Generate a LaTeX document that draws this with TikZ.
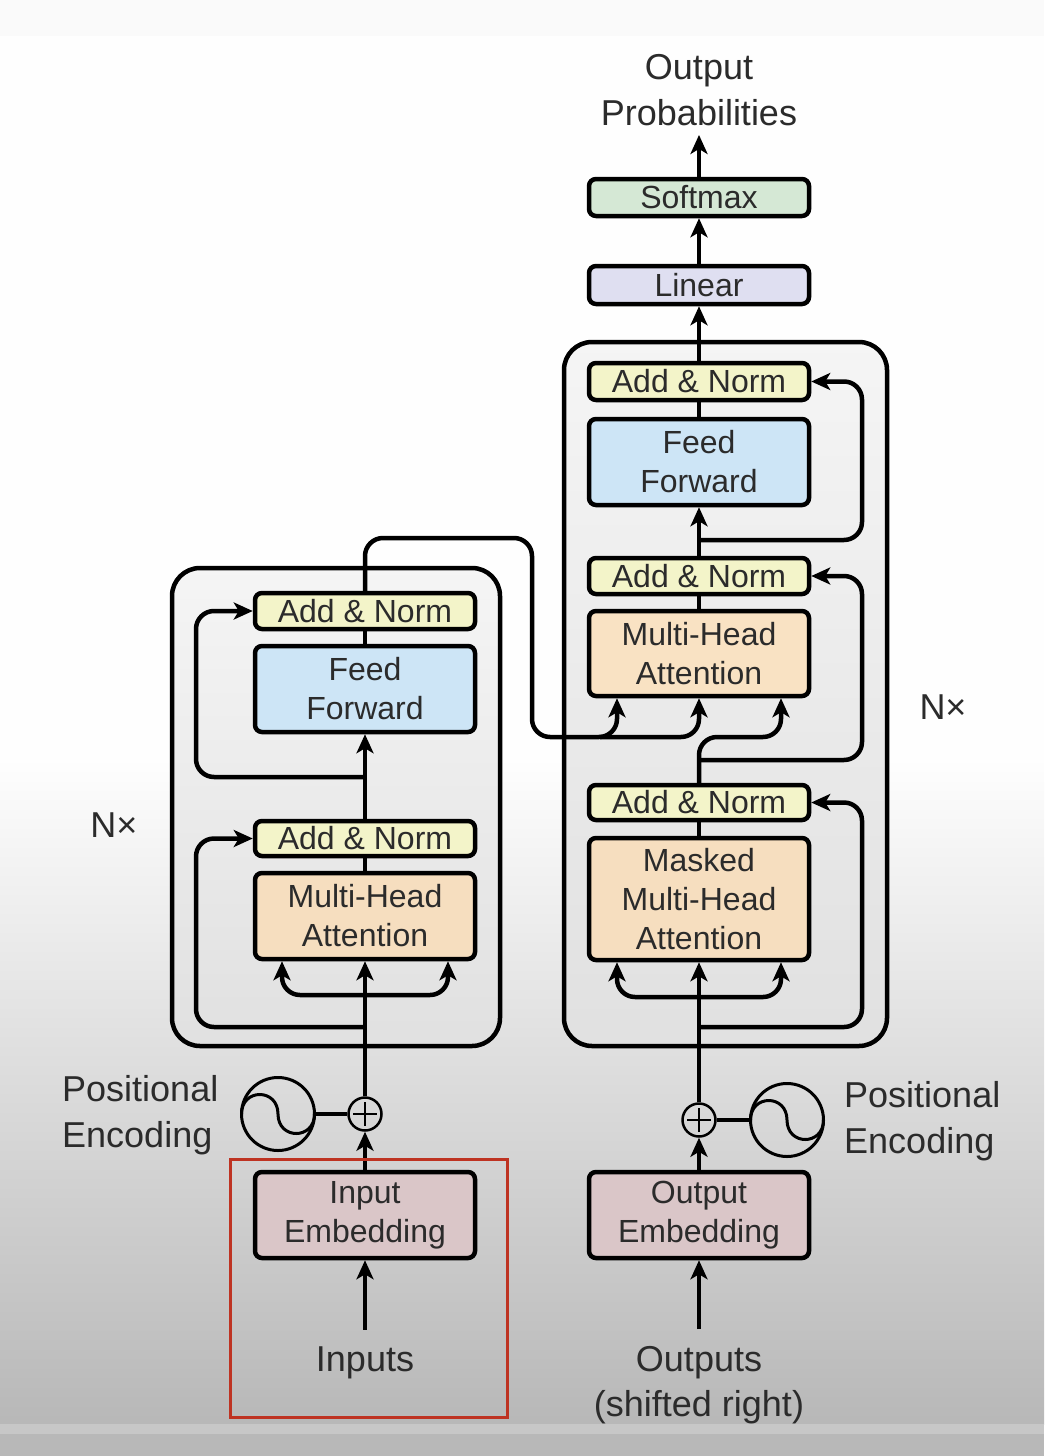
\documentclass[tikz,border=0pt]{standalone}
\usepackage{fontspec}
\setmainfont{Liberation Sans}
\usetikzlibrary{arrows.meta,calc}
\definecolor{txt}{HTML}{2B2B2B}
\definecolor{anC}{HTML}{F3F4C9}
\definecolor{ffC}{HTML}{CDE5F6}
\definecolor{mhC}{HTML}{F9E2C3}
\definecolor{mhCb}{HTML}{F6DEBF}
\definecolor{smC}{HTML}{D5E8D5}
\definecolor{linC}{HTML}{DFDFF1}
\definecolor{embC}{HTML}{DAC6C8}
\definecolor{redC}{HTML}{BE3322}
\begin{document}
\begin{tikzpicture}[x=1pt,y=-1pt,
  every node/.style={text=txt},
  blk/.style={draw=black, line width=4.5pt, rounded corners=7pt, minimum width=220pt, inner sep=0pt, align=center, font=\fontsize{32}{39}\selectfont},
  big/.style={draw=black, line width=4.5pt, rounded corners=28pt, inner sep=0pt},
  lbl/.style={font=\fontsize{36}{46}\selectfont, inner sep=0pt},
  ln/.style={line width=4.5pt},
  arr/.style={line width=4.5pt, -{Stealth[length=19pt,width=17pt,inset=5pt]}},
  res/.style={arr, rounded corners=18pt},
  pluscirc/.style={circle, draw=black, line width=2.5pt, minimum size=33pt, inner sep=0pt},
  sincirc/.style={circle, draw=black, line width=3pt, minimum size=73pt, inner sep=0pt},
  thin/.style={line width=2.5pt},
]
\useasboundingbox (0,0) rectangle (1044,1456);
% background
\fill[black!2] (0,0) rectangle (1044,36);
\fill[black!0.5] (0,36) rectangle (1044,761);
\shade[top color=black!0.5, bottom color=black!28] (0,760) rectangle (1044,1424);
\fill[black!22] (0,1424) rectangle (1044,1434);
\fill[black!28] (0,1434) rectangle (1044,1456);

% big boxes
\node[big, minimum width=328pt, minimum height=478pt, top color=black!4, middle color=black!5, bottom color=black!12] (encbox) at (336,807) {};
\node[big, minimum width=323pt, minimum height=704pt, top color=black!4, middle color=black!5, bottom color=black!12] (decbox) at (725.5,694) {};

% decoder blocks
\node[blk, fill=smC, minimum height=37pt] (softmax) at (699,197.5) {Softmax};
\node[blk, fill=linC, minimum height=38pt] (linear) at (699,285) {Linear};
\node[blk, fill=anC, minimum height=37pt] (an1) at (699,381.5) {Add \& Norm};
\node[blk, fill=ffC, minimum height=86pt] (ff) at (699,462) {Feed\\Forward};
\node[blk, fill=anC, minimum height=36pt] (an2) at (699,576) {Add \& Norm};
\node[blk, fill=mhC, minimum height=85pt] (mha) at (699,653.5) {Multi-Head\\Attention};
\node[blk, fill=anC, minimum height=35pt] (an3) at (699,802.5) {Add \& Norm};
\node[blk, fill=mhCb, minimum height=122pt] (mmha) at (699,899) {Masked\\Multi-Head\\Attention};
\node[blk, fill=embC, minimum height=86pt] (outemb) at (699,1215) {Output\\Embedding};

% encoder blocks
\node[blk, fill=anC, minimum height=36pt] (ane2) at (365,611) {Add \& Norm};
\node[blk, fill=ffC, minimum height=86pt] (ffe) at (365,689) {Feed\\Forward};
\node[blk, fill=anC, minimum height=35pt] (ane1) at (365,838.5) {Add \& Norm};
\node[blk, fill=mhCb, minimum height=86pt] (mhae) at (365,916) {Multi-Head\\Attention};
\node[blk, fill=embC, minimum height=86pt] (inemb) at (365,1215) {Input\\Embedding};

% labels
\node[lbl, align=center] (oprob) at (699,90) {Output\\Probabilities};
\node[lbl, align=left, anchor=west] (peL) at (62,1115) {Positional\\Encoding};
\node[lbl, align=left, anchor=west] (peR) at (844,1121) {Positional\\Encoding};
\node[lbl] (nxL) at (114,825) {N×};
\node[lbl] (nxR) at (943,707) {N×};
\node[lbl] (inputs) at (365,1363) {Inputs};
\node[lbl, align=center, font=\fontsize{36}{45}\selectfont] (outputs) at (699,1385) {Outputs\\(shifted right)};

% positional encoding
\node[pluscirc] (plusL) at (365,1114) {};
\node[sincirc] (sinL) at (278,1114) {};
\node[pluscirc] (plusR) at (699,1120) {};
\node[sincirc] (sinR) at (787,1120) {};
\foreach \p in {plusL,plusR}{
  \draw[thin] ($(\p.center)+(-12,0)$) -- ($(\p.center)+(12,0)$)
              ($(\p.center)+(0,-12)$) -- ($(\p.center)+(0,12)$);
}
\foreach \s in {sinL,sinR}{
  \draw[line width=3pt] ([xshift=-36.5pt]\s.center) .. controls +(0,-26) and +(0,-26) .. (\s.center)
        .. controls +(0,26) and +(0,26) .. ([xshift=36.5pt]\s.center);
}
\draw[ln] (sinL.east) -- (plusL.west);
\draw[ln] (plusR.east) -- (sinR.west);

% encoder connectors
\draw[arr, shorten <=17pt] (inputs.north) -- (inemb.south);
\draw[arr] (inemb.north) -- (plusL.south);
\draw[arr] (plusL.north) -- (mhae.south);
\coordinate (eSplit) at (365,995);
\draw[res] (eSplit) -| ([xshift=-83pt]mhae.south);
\draw[res] (eSplit) -| ([xshift=83pt]mhae.south);
\coordinate (eRes1) at (365,1027);
\draw[res] (eRes1) -| (196,838.5) -- (ane1.west);
\draw[ln] (mhae.north) -- (ane1.south);
\draw[arr] (ane1.north) -- (ffe.south);
\coordinate (eRes2) at (365,777);
\draw[res] (eRes2) -| (196,611) -- (ane2.west);
\draw[ln] (ffe.north) -- (ane2.south);
\draw[res] (ane2.north) |- (532,538) |- (617,737) -- ([xshift=-82pt]mha.south);
\coordinate (eOut) at (600,737);
\draw[res] (eOut) -| (mha.south);

% decoder connectors
\draw[arr, shorten <=17pt] (outputs.north) -- (outemb.south);
\draw[arr] (outemb.north) -- (plusR.south);
\draw[arr] (plusR.north) -- (mmha.south);
\coordinate (dSplit) at (699,997);
\draw[res] (dSplit) -| ([xshift=-82pt]mmha.south);
\draw[res] (dSplit) -| ([xshift=82pt]mmha.south);
\coordinate (dRes1) at (699,1027);
\draw[res] (dRes1) -| (862,802.5) -- (an3.east);
\draw[ln] (mmha.north) -- (an3.south);
\draw[res] (an3.north) |- (781,737) -- ([xshift=82pt]mha.south);
\coordinate (dRes2) at (699,760);
\draw[res] (dRes2) -| (862,576) -- (an2.east);
\draw[ln] (mha.north) -- (an2.south);
\draw[arr] (an2.north) -- (ff.south);
\coordinate (dRes3) at (699,540);
\draw[res] (dRes3) -| (862,381.5) -- (an1.east);
\draw[ln] (ff.north) -- (an1.south);
\draw[arr] (an1.north) -- (linear.south);
\draw[arr] (linear.north) -- (softmax.south);
\draw[arr] (softmax.north) -- ([yshift=-9pt]oprob.south);

% highlight
\draw[redC, line width=3pt] (230,1159) rectangle (507,1417);
\end{tikzpicture}
\end{document}
